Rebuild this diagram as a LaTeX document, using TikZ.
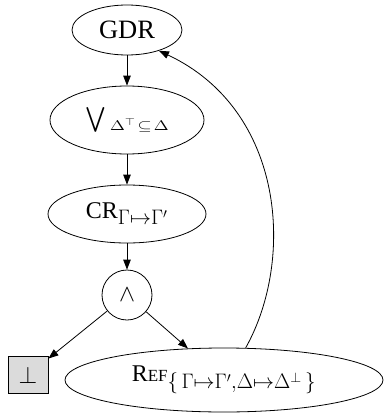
\RequirePackage{fix-cm}
\documentclass[tikz,border=0pt]{standalone}
\usepackage{amsmath}
\usepackage{graphicx}
\usepackage{fontspec}
\setmainfont{Liberation Serif}
\DeclareMathSizes{24}{24}{21}{14}
\usetikzlibrary{shapes.geometric,arrows.meta}
\begin{document}
\begin{tikzpicture}[x=1pt,y=-1pt,
  every node/.style={inner sep=0pt,font=\fontsize{24}{28}\selectfont},
  ell/.style={draw,ellipse,line width=0.8pt},
  arr/.style={-{Triangle[length=10pt,width=7.5pt]},line width=0.8pt}]
\useasboundingbox (0,0) rectangle (384,418);
\node[ell,minimum width=110pt,minimum height=50pt,font=\fontsize{26.5}{30}\selectfont] (gdr) at (127,30) {GDR};
\node[ell,minimum width=154pt,minimum height=68pt] (v) at (127,120) {$\bigvee$\,\raisebox{-5pt}{\scalebox{1.3}[1]{\fontsize{14}{16}\selectfont$\Delta^{\top}\!\subseteq\!\Delta$}}};
\node[ell,minimum width=158pt,minimum height=58pt] (cr) at (127,214) {CR$_{\Gamma\mapsto\Gamma'}$};
\node[draw,circle,line width=0.8pt,minimum size=50pt] (and) at (127,295) {$\wedge$};
\node[draw,fill=black!14,line width=0.8pt,minimum width=40pt,minimum height=37pt] (bot) at (28,375) {$\perp$};
\node[ell,minimum width=318pt,minimum height=64pt] (ref) at (224,380) {R{\fontsize{17}{20}\selectfont EF}$_{\{\,\Gamma\mapsto\Gamma',\Delta\mapsto\Delta^{\perp}\,\}}$};
\draw[arr] (gdr) -- (v);
\draw[arr] (v) -- (cr);
\draw[arr] (cr) -- (and);
\draw[arr] (and) -- (bot);
\draw[arr] (and) -- (ref);
\draw[arr] (ref.56) .. controls (295,260) and (285,110) .. (gdr.-33);
\end{tikzpicture}
\end{document}
